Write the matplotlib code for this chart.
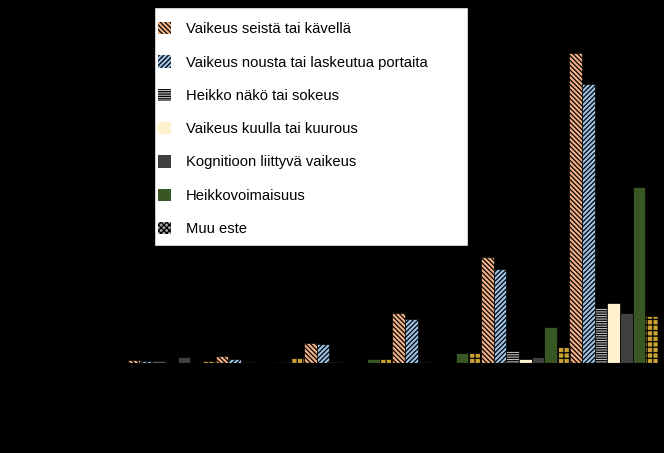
import numpy as np
import matplotlib.pyplot as plt
from matplotlib.patches import Patch, Rectangle

plt.rcParams['font.family'] = ['Liberation Sans', 'DejaVu Sans']
plt.rcParams['hatch.linewidth'] = 0.9

# six age groups (axis labels are not readable in the reference)
groups = np.arange(6)

labels = ["Vaikeus seistä tai kävellä",
          "Vaikeus nousta tai laskeutua portaita",
          "Heikko näkö tai sokeus",
          "Vaikeus kuulla tai kuurous",
          "Kognitioon liittyvä vaikeus",
          "Heikkovoimaisuus",
          "Muu este"]

seista = [3, 7, 20, 50, 106, 310]
portaat = [2, 4, 19, 44, 94, 279]
nako = [2, 1.5, 1, 1.5, 12, 55]
kuulo = [0, 0, 0, 0.5, 4, 60]
kognitio = [6, 1, 0.5, 0.5, 6, 50]
heikko = [0, 1, 4.5, 10, 36, 176]
muu = [2, 5, 4, 10, 16, 47]

series = [seista, portaat, nako, kuulo, kognitio, heikko, muu]
colors = ["#F4B183", "#9DC3E6", "#BFBFBF", "#FFF2CC", "#404040", "#385723", "#C9A232"]
hatches = ["\\" * 7, "/" * 7, "-" * 7, "", "", "", "+++"]

fig = plt.figure(figsize=(6.64, 4.53), dpi=100, facecolor="black")
ax = fig.add_axes([127/664, 1-363/453, (658-127)/664, (363-40)/453])
ax.set_facecolor("black")

w = 1/7
for k, vals in enumerate(series):
    ax.bar(groups + (k-3)*w, vals, w, color=colors[k], edgecolor="black",
           hatch=hatches[k], linewidth=0.5)

ax.set_xlim(-0.5, 5.5)
ax.set_ylim(0, 323)
ax.set_xticks([])
ax.set_yticks([])
for s in ax.spines.values():
    s.set_color("black")

# legend box
fig.patches.append(Rectangle((154/664, 1-246/453), (468-154)/664, (246-7)/453,
                             transform=fig.transFigure, facecolor="white",
                             edgecolor="black", linewidth=1, zorder=5))
leg_colors = colors[:6] + ["#A6A6A6"]
leg_hatches = hatches[:6] + ["xxxxxx"]
handles = [Patch(facecolor=c, hatch=h, edgecolor="black", linewidth=0)
           for c, h in zip(leg_colors, leg_hatches)]
leg = fig.legend(handles, labels, loc="upper left", bbox_to_anchor=(158/664, 1-22/453),
                 frameon=False, fontsize=10.6, handlelength=0.9, handleheight=0.9,
                 handletextpad=1.0, labelspacing=1.3, borderaxespad=0, borderpad=0)
leg.set_zorder(6)

fig.savefig("out.png", dpi=100, facecolor="black")
